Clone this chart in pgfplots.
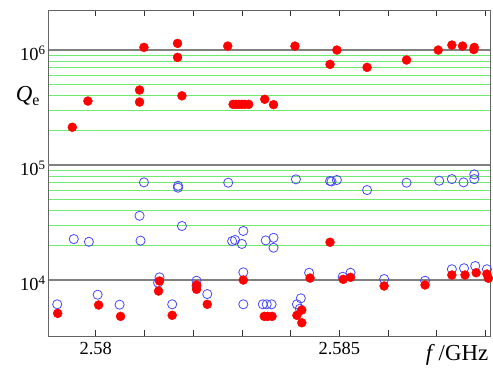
\documentclass[border=0pt]{standalone}
\usepackage{pgfplots}
\pgfplotsset{compat=1.18}
\usepackage{fontspec}
\setmainfont{Liberation Serif}
\definecolor{gridgreen}{RGB}{110,235,110}
\definecolor{myblue}{RGB}{70,70,250}
\definecolor{framegray}{RGB}{100,100,100}
\pgfplotstableread{
f Q
2.57921 6150
2.57955 22700
2.57986 21500
2.58004 7450
2.58049 6100
2.58090 36200
2.58092 22000
2.58099 70700
2.58128 9470
2.58131 10550
2.58157 6150
2.58169 66000
2.58169 63500
2.58177 29500
2.58207 9860
2.58207 8870
2.58229 7550
2.58272 70200
2.58280 21800
2.58286 22300
2.58300 20600
2.58303 26700
2.58303 11670
2.58303 6150
2.58343 6150
2.58351 6150
2.58361 6150
2.58349 22100
2.58365 23300
2.58365 19100
2.58411 75100
2.58413 6150
2.58421 6930
2.58419 5630
2.58438 11570
2.58481 72600
2.58484 72000
2.58495 74100
2.58507 10680
2.58523 11570
2.58557 60600
2.58592 10200
2.58638 70200
2.58676 9860
2.58705 73000
2.58731 75500
2.58731 12410
2.58755 70700
2.58756 12660
2.58777 75500
2.58777 83000
2.58779 13240
2.58803 12410
}\bluedata
\pgfplotstableread{
f Q
2.57952 213000
2.57984 360000
2.58090 449000
2.58090 353000
2.58099 1055000
2.58168 1143000
2.58168 864000
2.58177 400000
2.58271 1083000
2.58282 337000
2.58288 337000
2.58294 337000
2.58300 337000
2.58306 337000
2.58314 337000
2.58347 373000
2.58365 335000
2.58409 1083000
2.58495 1000000
2.58481 751000
2.58557 707000
2.58638 819000
2.58703 1000000
2.58731 1105000
2.58753 1083000
2.58777 1055000
2.58776 1010000
2.57922 5130
2.58006 6060
2.58051 4830
2.58157 4930
2.58131 9800
2.58129 8020
2.58207 9050
2.58207 8300
2.58229 6150
2.58303 10000
2.58346 4830
2.58353 4830
2.58362 4830
2.58413 4930
2.58423 5480
2.58423 4250
2.58481 21300
2.58440 10400
2.58508 10140
2.58523 10550
2.58592 8870
2.58676 9050
2.58731 11050
2.58758 11050
2.58781 11570
2.58803 11270
2.58806 10350
}\reddata
\begin{document}
\begin{tikzpicture}
\begin{axis}[
  name=ax,
  scale only axis,
  width=442bp, height=326bp,
  ymode=log,
  xmin=2.579021, xmax=2.588093,
  ymin=3260, ymax=2230000,
  axis line style={framegray, line width=0.9pt},
  xtick={2.580,2.581,2.582,2.583,2.584,2.585,2.586,2.587,2.588},
  xticklabels={2.58,,,,,2.585,,,},
  xtick align=inside,
  xtick pos=both,
  major tick length=6bp,
  x tick style={black!80, line width=0.7pt},
  ytick={1e4,1e5,1e6},
  yticklabels={10\textsuperscript{4},10\textsuperscript{5},10\textsuperscript{6}},
  y tick style={draw=none},
  minor y tick style={draw=none},
  ymajorgrids, yminorgrids,
  major grid style={gray, line width=1.1pt},
  minor grid style={gridgreen, line width=1.2pt},
  extra y ticks={1e5},
  extra y tick labels={},
  extra y tick style={grid style={black!85, line width=1.1pt}, tick style={draw=none}},
  tick label style={font=\fontsize{18.5}{20}\selectfont},
  xticklabel style={yshift=-3bp},
  yticklabel style={yshift=-3bp, xshift=1bp},
  scaled x ticks=false,
]
\addplot[only marks, mark=o, mark size=4.6pt, myblue, mark options={line width=0.8pt}] table[x=f,y=Q]{\bluedata};
\addplot[only marks, mark=*, mark size=4.5pt, red, mark options={draw=red, fill=red}] table[x=f,y=Q]{\reddata};
\end{axis}
\node[anchor=center, font=\fontsize{23}{25}\selectfont] at ([xshift=-20bp,yshift=240bp]ax.south west) {\textit{Q}\textsubscript{e}};
\node[anchor=base east, font=\fontsize{23}{25}\selectfont, inner sep=0pt] at ([xshift=-1.5bp,yshift=-24bp]ax.south east) {\textit{f}\,/GHz};
\pgfresetboundingbox
\path[use as bounding box] ([xshift=-48bp,yshift=-32bp]ax.south west) rectangle ([xshift=3bp,yshift=10bp]ax.north east);
\end{tikzpicture}
\end{document}
